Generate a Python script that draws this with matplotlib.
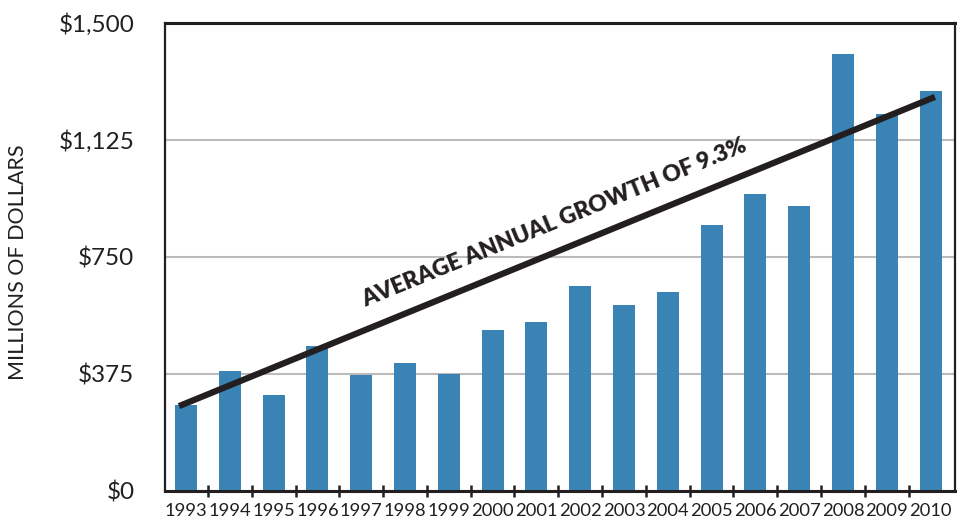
import matplotlib.pyplot as plt
import numpy as np

years = ['1993', '1994', '1995', '1996', '1997', '1998', '1999', '2000', '2001',
         '2002', '2003', '2004', '2005', '2006', '2007', '2008', '2009', '2010']
values = [276, 385, 308, 465, 372, 410, 375, 516, 542,
          657, 596, 638, 853, 952, 913, 1401, 1208, 1282]
trend_start = 272
trend_end = 1263
yticks = [0, 375, 750, 1125, 1500]
ytick_labels = ['$0', '$375', '$750', '$1,125', '$1,500']

plt.rcParams['font.family'] = ['Lato', 'DejaVu Sans']
textcol = '#231f20'

fig = plt.figure(figsize=(9.57, 5.25), dpi=100)
ax = fig.add_axes([0.1724, 0.0648, 0.8256, 0.8914])

x = np.arange(len(years))
ax.bar(x, values, width=0.5, color='#3a84b5', zorder=2)

# trend line
ax.plot([x[0] - 0.16, x[-1] + 0.1], [trend_start, trend_end], color=textcol,
        lw=4.5, solid_capstyle='butt', zorder=3)
ax.text(8.4, 860, 'AVERAGE ANNUAL GROWTH OF 9.3%', rotation=22.2,
        rotation_mode='anchor', ha='center', va='center', fontsize=16.5,
        fontweight='heavy', color=textcol, zorder=4)

ax.set_xlim(-0.48, 17.56)
ax.set_ylim(0, 1500)
ax.set_yticks(yticks)
ax.set_yticklabels(ytick_labels, fontsize=17.5, color=textcol)
ax.set_xticks(x)
ax.set_xticklabels(years, fontsize=13.2, color=textcol)
ax.set_xticks(x[:-1] + 0.5, minor=True)
ax.tick_params(axis='x', which='major', length=0, pad=9)
ax.tick_params(axis='x', which='minor', direction='inout', length=9, width=1.8,
               color=textcol)
ax.tick_params(axis='y', length=0, pad=22)

ax.grid(axis='y', color='#bbbbbb', lw=1.5, zorder=1)
ax.set_axisbelow(True)

for side in ['top', 'bottom']:
    ax.spines[side].set_linewidth(2.2)
    ax.spines[side].set_color(textcol)
for side in ['left', 'right']:
    ax.spines[side].set_linewidth(1.6)
    ax.spines[side].set_color(textcol)

fig.text(0.019, 0.5, 'MILLIONS OF DOLLARS', rotation=90, ha='center',
         va='center', fontsize=15.5, color=textcol)

fig.savefig('out.png', dpi=100)
